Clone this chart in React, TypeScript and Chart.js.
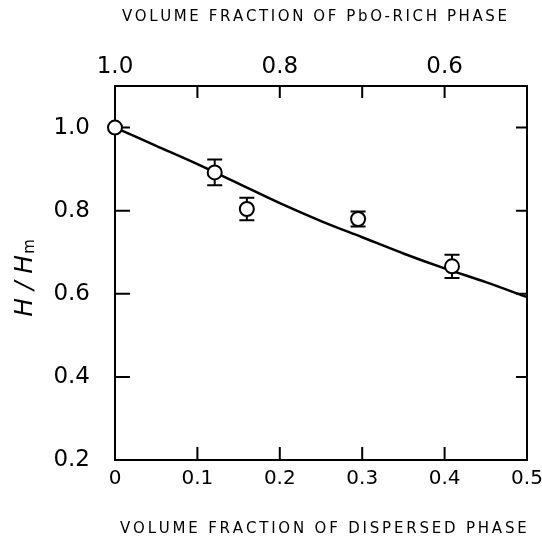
import React, { useEffect, useRef } from 'react';
import { Chart, registerables } from 'chart.js';

Chart.register(...registerables);

// ---- data ----
const curvePhi = [0, 0.05, 0.1, 0.15, 0.2, 0.25, 0.3, 0.35, 0.4, 0.45, 0.5];
const curveH = [1.0, 0.956, 0.912, 0.865, 0.818, 0.775, 0.736, 0.697, 0.661, 0.628, 0.592];

const pointPhi = [0, 0.121, 0.160, 0.295, 0.409];
const pointH = [1.0, 0.892, 0.804, 0.780, 0.666];
const pointErr = [0, 0.031, 0.027, 0.018, 0.028];

const xTickValues = [0, 0.1, 0.2, 0.3, 0.4, 0.5];
const xTickLabels = ['0', '0.1', '0.2', '0.3', '0.4', '0.5'];
const topTickValues = [1.0, 0.9, 0.8, 0.7, 0.6];
const topTickLabels = ['1.0', '', '0.8', '', '0.6'];
const yTickValues = [0.2, 0.4, 0.6, 0.8, 1.0];
const yTickLabels = ['0.2', '0.4', '0.6', '0.8', '1.0'];

const bottomTitle = 'VOLUME FRACTION OF DISPERSED PHASE';
const topTitle = 'VOLUME FRACTION OF PbO-RICH PHASE';

const FONT = '"DejaVu Sans", sans-serif';

function lookup(values: number[], labels: string[], v: number) {
  const i = values.findIndex((t) => Math.abs(t - v) < 1e-9);
  return i >= 0 ? labels[i] : '';
}

function drawSpaced(ctx: CanvasRenderingContext2D, text: string, x: number, y: number, spacing: number) {
  let cx = x;
  for (const ch of text) {
    ctx.fillText(ch, cx, y);
    cx += ctx.measureText(ch).width + spacing;
  }
}

const decorPlugin = {
  id: 'decor',
  beforeDatasetsDraw(chart: any) {
    const ctx = chart.ctx as CanvasRenderingContext2D;
    const { left, right, top, bottom } = chart.chartArea;
    const xs = chart.scales.x;
    const x2 = chart.scales.x2;
    const ys = chart.scales.y;
    ctx.save();
    ctx.strokeStyle = '#000';
    ctx.lineWidth = 2;
    ctx.strokeRect(left, top, right - left, bottom - top);
    ctx.beginPath();
    xTickValues.forEach((v) => {
      if (v <= xs.min || v >= xs.max) return;
      const px = xs.getPixelForValue(v);
      ctx.moveTo(px, bottom);
      ctx.lineTo(px, bottom - 13);
    });
    topTickValues.forEach((v) => {
      if (v >= 1.0) return;
      const px = x2.getPixelForValue(v);
      ctx.moveTo(px, top);
      ctx.lineTo(px, top + 12);
    });
    yTickValues.forEach((v) => {
      if (v <= ys.min) return;
      const py = ys.getPixelForValue(v);
      ctx.moveTo(left, py);
      ctx.lineTo(left + 15, py);
      ctx.moveTo(right, py);
      ctx.lineTo(right - 11, py);
    });
    ctx.stroke();

    ctx.beginPath();
    pointPhi.forEach((p, i) => {
      const e = pointErr[i];
      if (!e) return;
      const px = xs.getPixelForValue(p);
      const hi = ys.getPixelForValue(pointH[i] + e);
      const lo = ys.getPixelForValue(pointH[i] - e);
      ctx.moveTo(px, hi);
      ctx.lineTo(px, lo);
      ctx.moveTo(px - 7.5, hi);
      ctx.lineTo(px + 7.5, hi);
      ctx.moveTo(px - 7.5, lo);
      ctx.lineTo(px + 7.5, lo);
    });
    ctx.stroke();
    ctx.restore();
  },
  afterDraw(chart: any) {
    const ctx = chart.ctx as CanvasRenderingContext2D;
    ctx.save();
    ctx.fillStyle = '#000';
    ctx.textBaseline = 'middle';
    ctx.textAlign = 'left';
    ctx.font = `15px ${FONT}`;
    drawSpaced(ctx, topTitle, 122, 17, 2.6);
    drawSpaced(ctx, bottomTitle, 120, 529, 2.8);

    ctx.translate(23, 278);
    ctx.rotate(-Math.PI / 2);
    ctx.textBaseline = 'alphabetic';
    ctx.font = `italic 25px ${FONT}`;
    const main = 'H / H';
    const w1 = ctx.measureText(main).width;
    ctx.font = `15px ${FONT}`;
    const w2 = ctx.measureText('m').width;
    const start = -(w1 + w2 + 1) / 2;
    ctx.font = `italic 25px ${FONT}`;
    ctx.fillText(main, start, 9);
    ctx.font = `15px ${FONT}`;
    ctx.fillText('m', start + w1 + 1, 11);
    ctx.restore();
  },
};

export default function App() {
  const ref = useRef<HTMLCanvasElement>(null);

  useEffect(() => {
    if (!ref.current) return;
    const chart = new Chart(ref.current, {
      type: 'scatter',
      data: {
        datasets: [
          {
            type: 'line',
            label: 'fit',
            data: curvePhi.map((x, i) => ({ x, y: curveH[i] })),
            borderColor: '#000',
            borderWidth: 2.5,
            pointRadius: 0,
            cubicInterpolationMode: 'monotone',
            fill: false,
            clip: false,
            order: 2,
            xAxisID: 'x',
            yAxisID: 'y',
          } as any,
          {
            type: 'scatter',
            label: 'data',
            data: pointPhi.map((x, i) => ({ x, y: pointH[i] })),
            pointRadius: 7,
            pointBorderWidth: 2,
            pointBackgroundColor: '#fff',
            pointBorderColor: '#000',
            clip: false,
            order: 1,
            xAxisID: 'x',
            yAxisID: 'y',
          } as any,
        ],
      },
      options: {
        responsive: false,
        animation: false,
        devicePixelRatio: 1,
        layout: { padding: { right: 15, left: 0, top: 0, bottom: 0 } },
        plugins: { legend: { display: false }, tooltip: { enabled: false }, title: { display: false } },
        scales: {
          x: {
            type: 'linear',
            position: 'bottom',
            min: 0,
            max: 0.5,
            grid: { display: false, drawTicks: false },
            border: { display: false },
            afterBuildTicks: (s: any) => {
              s.ticks = xTickValues.map((v) => ({ value: v }));
            },
            afterFit: (s: any) => {
              s.height = 78;
              s.paddingLeft = 0;
              s.paddingRight = 0;
            },
            ticks: {
              callback: (v: any) => lookup(xTickValues, xTickLabels, Number(v)),
              font: { family: FONT, size: 20 },
              color: '#000',
              padding: 7,
              maxRotation: 0,
              autoSkip: false,
            },
          },
          x2: {
            type: 'linear',
            position: 'top',
            min: 0.5,
            max: 1.0,
            reverse: true,
            grid: { display: false, drawTicks: false },
            border: { display: false },
            afterBuildTicks: (s: any) => {
              s.ticks = topTickValues.map((v) => ({ value: v }));
            },
            afterFit: (s: any) => {
              s.height = 86;
              s.paddingLeft = 0;
              s.paddingRight = 0;
            },
            ticks: {
              callback: (v: any) => lookup(topTickValues, topTickLabels, Number(v)),
              font: { family: FONT, size: 23 },
              color: '#000',
              padding: 5,
              maxRotation: 0,
              autoSkip: false,
            },
          },
          y: {
            type: 'linear',
            position: 'left',
            min: 0.2,
            max: 1.1,
            grid: { display: false, drawTicks: false },
            border: { display: false },
            afterBuildTicks: (s: any) => {
              s.ticks = yTickValues.map((v) => ({ value: v }));
            },
            afterFit: (s: any) => {
              s.width = 115;
            },
            ticks: {
              callback: (v: any) => lookup(yTickValues, yTickLabels, Number(v)),
              font: { family: FONT, size: 23 },
              color: '#000',
              padding: 25,
              autoSkip: false,
            },
          },
        },
      } as any,
      plugins: [decorPlugin],
    });
    return () => chart.destroy();
  }, []);

  return (
    <div style={{ position: 'absolute', left: 0, top: 0, width: 542, height: 538, background: '#fff' }}>
      <canvas ref={ref} width={542} height={538} style={{ display: 'block' }} />
    </div>
  );
}
